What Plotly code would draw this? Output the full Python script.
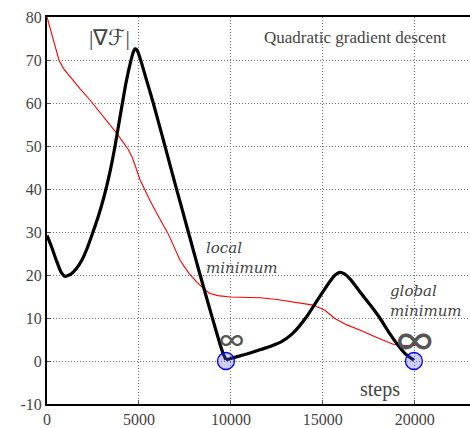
import plotly.graph_objects as go

# gradient magnitude curve (black), first descent to the local minimum
grad_steps_a = [0, 250, 500, 750, 978, 1300, 1600, 1900, 2200, 2500, 2800, 3100, 3400, 3700,
                4000, 4300, 4549, 4680, 4783, 4900, 5092, 5400, 5777, 6288, 6775, 7300, 7800, 8300,
                8950, 9400, 9600, 9730]
grad_vals_a = [29.2, 26.5, 23.5, 20.8, 19.7, 20.2, 21.5, 23.5, 26.4, 30.0, 33.8, 38.2, 43.5, 50.0,
               57.5, 64.8, 69.6, 71.7, 72.6, 72.3, 70.0, 65.5, 60.0, 52.0, 44.2, 36.0, 28.2, 20.4,
               10.6, 4.0, 1.5, 0.3]
# second part: from the local minimum to the global minimum
grad_steps_b = [9730, 10000, 10500, 11000, 11576, 12200, 12754, 13300, 13700, 14112,
                14500, 15018, 15400, 15700, 15924, 16150, 16500, 17011, 17600, 18098, 18600, 19100,
                19500, 19950]
grad_vals_b = [0.3, 0.6, 1.2, 1.8, 2.6, 3.5, 4.5, 6.2, 8.0, 10.3,
               12.8, 16.2, 18.6, 20.1, 20.6, 20.3, 19.0, 16.1, 12.9, 10.0, 6.6, 3.6,
               1.6, 0.2]

# objective curve (red)
obj_steps = [0, 300, 650, 900, 1300, 1800, 2337, 3000, 3786, 4420, 4650, 5054, 5598, 6100, 6600,
             7228, 7700, 8134, 8315, 8600, 8859, 9300, 9946, 11576, 12500, 13500, 14475, 15109, 15652,
             16300, 17011, 17900, 18822, 19300, 20050]
obj_vals = [80.0, 75.5, 70.0, 68.0, 65.8, 63.3, 60.7, 57.3, 53.0, 49.2, 47.2, 42.2, 37.3, 33.3, 29.5,
            23.5, 20.5, 18.4, 17.6, 16.5, 15.7, 15.2, 14.9, 14.7, 14.3, 13.7, 13.0, 11.8, 9.9,
            8.4, 7.2, 5.5, 3.9, 3.6, 3.6]

# minima markers
min_steps = [9730, 19950]
min_vals = [0, 0]

x_ticks = [0, 5000, 10000, 15000, 20000]
y_ticks = [-10, 0, 10, 20, 30, 40, 50, 60, 70, 80]

FONT = "Liberation Serif"
TXT = "#444444"

fig = go.Figure()
fig.add_trace(go.Scatter(x=obj_steps, y=obj_vals, mode="lines",
                         line=dict(color="red", width=1.1), showlegend=False))
for xs, ys in ((grad_steps_a, grad_vals_a), (grad_steps_b, grad_vals_b)):
    fig.add_trace(go.Scatter(x=xs, y=ys, mode="lines",
                             line=dict(color="black", width=3.2, shape="spline", smoothing=0.5),
                             showlegend=False))
fig.add_trace(go.Scatter(x=min_steps, y=min_vals, mode="markers",
                         marker=dict(size=17, color="rgba(90,90,255,0.3)",
                                     line=dict(color="blue", width=1.3)),
                         showlegend=False))

ann = [
    dict(x=3400, y=75.2, text="|∇ℱ|", size=22, fam=FONT, xanchor="center", col=TXT),
    dict(x=16740, y=75.2, text="Quadratic gradient descent", size=17, fam=FONT, xanchor="center", col=TXT),
    dict(x=8540, y=24.0, text="<i>local<br>minimum</i>", size=15, fam="DejaVu Serif", xanchor="left", col=TXT),
    dict(x=18540, y=14.0, text="<i>global<br>minimum</i>", size=15, fam="DejaVu Serif", xanchor="left", col=TXT),
    dict(x=10054, y=5.0, text="∞", size=27, fam="Inter", xanchor="center", col="#555555"),
    dict(x=20000, y=5.0, text="∞", size=40, fam="Inter", xanchor="center", col="#555555"),
    dict(x=18098, y=-6.6, text="steps", size=20, fam=FONT, xanchor="center", col=TXT),
]
for a in ann:
    fig.add_annotation(x=a["x"], y=a["y"], text=a["text"], showarrow=False,
                       xanchor=a["xanchor"], yanchor="middle", align="left",
                       font=dict(family=a["fam"], size=a["size"], color=a["col"]))

grid_dash = "1px,2px"
fig.update_xaxes(range=[0, 23000], tickvals=x_ticks, ticktext=[str(t) for t in x_ticks],
                 showgrid=True, gridcolor="#777777", griddash=grid_dash, gridwidth=1,
                 showline=True, linecolor="black", linewidth=2, mirror=True,
                 ticks="inside", ticklen=4, tickcolor="#555555", zeroline=False,
                 tickfont=dict(family=FONT, size=16, color=TXT))
fig.update_yaxes(range=[-10, 80], tickvals=y_ticks, ticktext=[str(t) for t in y_ticks],
                 showgrid=True, gridcolor="#777777", griddash=grid_dash, gridwidth=1,
                 showline=True, linecolor="black", linewidth=2,
                 ticks="inside", ticklen=4, tickcolor="#555555", zeroline=False,
                 tickfont=dict(family=FONT, size=16, color=TXT))

fig.update_layout(width=470, height=428, margin=dict(l=47, r=0, t=17, b=22),
                  plot_bgcolor="white", paper_bgcolor="white")

fig.write_html("out.html")
